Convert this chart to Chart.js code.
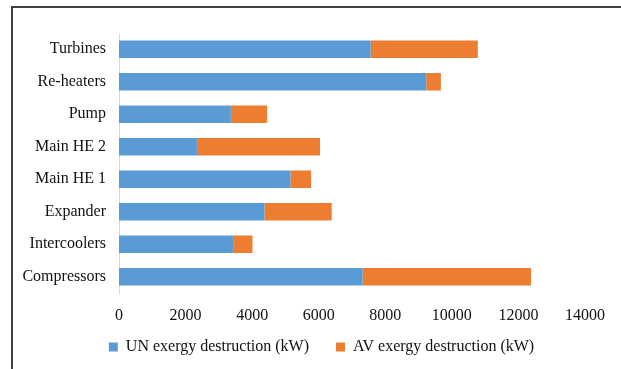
<!DOCTYPE html>
<html>
<head>
<meta charset="utf-8">
<script src="https://cdn.jsdelivr.net/npm/chart.js@4.4.1/dist/chart.umd.min.js"></script>
<style>
  html, body { margin: 0; padding: 0; background: #fff; }
  #wrap { position: relative; width: 621px; height: 369px; overflow: hidden; }
  #frame {
    position: absolute; left: 11px; top: 6px; width: 800px; height: 600px;
    border-left: 2px solid #3f3f3f; border-top: 2px solid #3f3f3f;
  }
  #chart { position: absolute; left: 0; top: 0; }
</style>
</head>
<body>
<div id="wrap">
  <div id="frame"></div>
  <canvas id="chart" width="621" height="369"></canvas>
</div>
<script>
// Exergy destruction split: unavoidable (UN) vs avoidable (AV), kW
const categories = ["Turbines", "Re-heaters", "Pump", "Main HE 2", "Main HE 1",
  "Expander", "Intercoolers", "Compressors"];
const unValues = [7560, 9230, 3360, 2340, 5150, 4370, 3450, 7320];
const avValues = [3220, 440, 1090, 3700, 620, 2020, 560, 5060];
const seriesNames = ["UN exergy destruction (kW)", "AV exergy destruction (kW)"];
const xTicks = [0, 2000, 4000, 6000, 8000, 10000, 12000, 14000];

const FONT = { family: "'Liberation Serif', 'Times New Roman', serif", size: 16 };
const TEXT = "#111";

// legend sits off-centre under the plot in the original, nudge it there
const legendNudge = {
  id: "legendNudge",
  afterLayout(chart) {
    const lg = chart.legend;
    if (!lg) return;
    const dx = 24;
    const dy = 347 - (lg.top + 35); // text middle line of the original
    lg.left += dx; lg.right += dx;
    lg.top += dy; lg.bottom += dy;
  },
};

new Chart(document.getElementById("chart"), {
  type: "bar",
  data: {
    labels: categories,
    datasets: [
      { label: seriesNames[0], data: unValues, backgroundColor: "#5b9bd5",
        borderWidth: 0, barPercentage: 0.54, categoryPercentage: 1 },
      { label: seriesNames[1], data: avValues, backgroundColor: "#ed7d31",
        borderWidth: 0, barPercentage: 0.54, categoryPercentage: 1 },
    ],
  },
  options: {
    indexAxis: "y",
    responsive: false,
    animation: false,
    layout: { padding: { top: 33, right: 36, left: 10, bottom: 0 } },
    scales: {
      x: {
        stacked: true,
        min: xTicks[0],
        max: xTicks[xTicks.length - 1],
        afterBuildTicks: (s) => { s.ticks = xTicks.map((v) => ({ value: v })); },
        afterFit: (s) => { s.height = 31; },
        grid: { display: false, drawTicks: false },
        border: { display: false },
        ticks: { color: TEXT, font: FONT, padding: 13, maxRotation: 0,
          callback: (v) => String(v) },
      },
      y: {
        stacked: true,
        afterFit: (s) => { s.width = 109; },
        grid: { display: false, drawTicks: false },
        border: { display: true, color: "#d9d9d9", width: 1 },
        ticks: { color: TEXT, font: FONT, padding: 13 },
      },
    },
    plugins: {
      legend: {
        position: "bottom",
        maxHeight: 45,
        labels: { color: TEXT, font: FONT, boxWidth: 9, boxHeight: 9, padding: 27 },
      },
      tooltip: { enabled: false },
    },
  },
  plugins: [legendNudge],
});
</script>
</body>
</html>
